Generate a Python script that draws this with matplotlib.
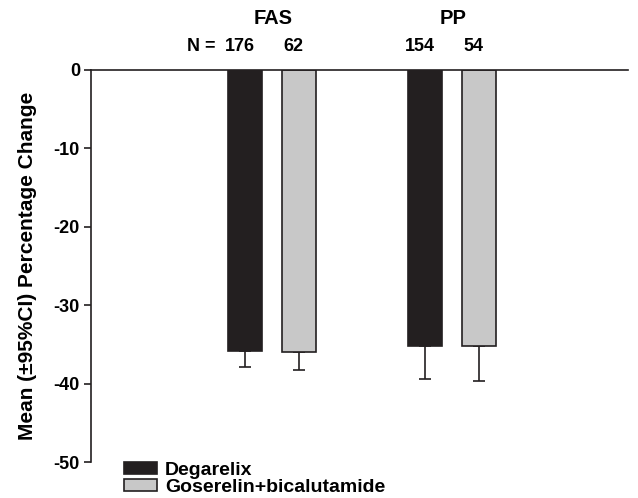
import numpy as np
import matplotlib.pyplot as plt

plt.rcParams['font.family'] = ['Liberation Sans', 'DejaVu Sans']
plt.rcParams['font.weight'] = 'bold'

# donnees
groupes = ['FAS', 'PP']
traitements = ['Degarelix', 'Goserelin+bicalutamide']
moyennes = {'Degarelix': [-35.9, -35.2], 'Goserelin+bicalutamide': [-36.0, -35.2]}
ic_bas = {'Degarelix': [2.0, 4.2], 'Goserelin+bicalutamide': [2.3, 4.5]}
effectifs = {'Degarelix': [176, 154], 'Goserelin+bicalutamide': [62, 54]}
yticks = [0, -10, -20, -30, -40, -50]

couleurs = {'Degarelix': '#231f20', 'Goserelin+bicalutamide': '#c8c8c8'}
centres = np.array([3.37, 6.72])
decal = {'Degarelix': -0.5, 'Goserelin+bicalutamide': 0.5}

fig = plt.figure(figsize=(6.38, 4.98), dpi=100)
ax = fig.add_axes([91/638, 1-462/498, (628-91)/638, (462-70)/498])

for t in traitements:
    x = centres + decal[t]
    ax.bar(x, moyennes[t], width=0.63, color=couleurs[t], edgecolor='#231f20',
           linewidth=1.2, label=t, zorder=2)
    ax.errorbar(x, moyennes[t], yerr=[ic_bas[t], np.zeros(2)], fmt='none',
                ecolor='#231f20', elinewidth=1.2, capsize=4, capthick=1.2, zorder=1)
    for xi, n in zip(x, effectifs[t]):
        ax.text(xi - 0.1, 2.95, str(n), ha='center', va='center', fontsize=13,
                fontweight='bold', clip_on=False)

ax.text(centres[0] - 0.5 - 0.55, 2.95, 'N =', ha='right', va='center', fontsize=13,
        fontweight='bold')
for c, g in zip(centres, groupes):
    ax.text(c + 0.02, 6.6, g, ha='center', va='center', fontsize=14.5, fontweight='bold')

ax.set_xlim(0, 10)
ax.set_ylim(-50, 0)
ax.set_yticks(yticks)
ax.set_yticklabels([str(v) for v in yticks], fontsize=13, fontweight='bold')
ax.set_xticks([])
ax.spines['right'].set_visible(False)
ax.spines['bottom'].set_visible(False)
ax.spines['top'].set_color('#231f20')
ax.spines['left'].set_color('#231f20')
ax.spines['top'].set_linewidth(1.2)
ax.spines['left'].set_linewidth(1.2)
ax.tick_params(axis='y', direction='out', length=5, width=1.2, color='#231f20', pad=3)
ax.set_ylabel('Mean (±95%CI) Percentage Change', fontsize=15, fontweight='bold',
              labelpad=12)

fig.legend(loc='upper left', bbox_to_anchor=(124/638, 1-462/498), frameon=False,
           fontsize=14, handlelength=1.7, handleheight=0.55, labelspacing=0.0,
           handletextpad=0.4, borderpad=0, borderaxespad=0)

plt.savefig('out.png', dpi=100)
